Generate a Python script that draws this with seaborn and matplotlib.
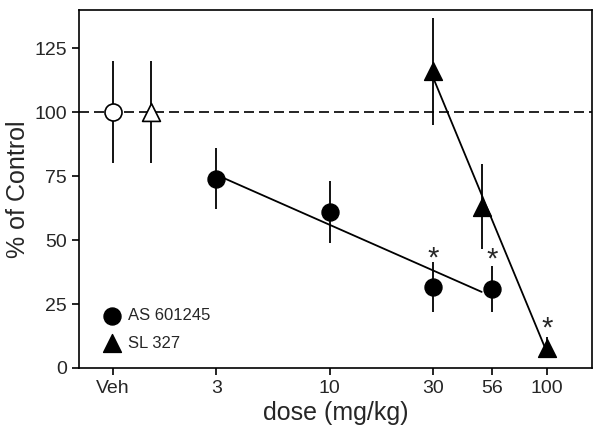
"""Dose-response of AS 601245 and SL 327 as percent of control."""
import matplotlib.pyplot as plt
import numpy as np
import pandas as pd
import seaborn as sns

# vehicle points (drawn at x=1 and x=1.5 on the log axis)
veh_x = [1.0, 1.5]
veh_mean = [100, 100]
veh_sem = [20, 20]

as_dose = [3, 10, 30, 56]
as_mean = [74, 61, 31.5, 31]
as_sem = [12, 12, 9.8, 9]

sl_dose = [30, 50, 100]
sl_mean = [116, 63, 8]
sl_sem = [21, 16.6, 4]

star_x = [30, 56, 100]
star_y = [45.7, 45, 18]

tick_pos = [1, 3, 10, 30, 56, 100]
tick_lab = ["Veh", "3", "10", "30", "56", "100"]


def main() -> None:
    sns.set_theme(style="ticks")
    plt.rcParams["font.family"] = ["Liberation Sans", "DejaVu Sans"]
    fig = plt.figure(figsize=(6.01, 4.37), dpi=100)
    ax = fig.add_axes([0.1314, 0.158, 0.8536, 0.819])
    ax.set_xscale("log")

    ax.axhline(100, color="black", linestyle=(0, (6, 3)), linewidth=1.2, zorder=1)

    # regression lines through log dose
    for dose, mean, x_end in [(as_dose, as_mean, 50), (sl_dose, sl_mean, 100)]:
        k, b = np.polyfit(np.log10(dose), mean, 1)
        xs = np.array([dose[0], x_end])
        ax.plot(xs, k * np.log10(xs) + b, color="black", linewidth=1.3, zorder=2)

    ax.errorbar(veh_x, veh_mean, yerr=veh_sem, fmt="none", ecolor="black", elinewidth=1.3, zorder=3)
    ax.errorbar(as_dose, as_mean, yerr=as_sem, fmt="none", ecolor="black", elinewidth=1.3, zorder=3)
    ax.errorbar(sl_dose, sl_mean, yerr=sl_sem, fmt="none", ecolor="black", elinewidth=1.3, zorder=3)

    df_as = pd.DataFrame({"dose": as_dose, "pct": as_mean})
    df_sl = pd.DataFrame({"dose": sl_dose, "pct": sl_mean})
    sns.scatterplot(data=df_as, x="dose", y="pct", marker="o", s=150, color="black",
                    edgecolor="black", ax=ax, zorder=4, label="AS 601245")
    sns.scatterplot(data=df_sl, x="dose", y="pct", marker="^", s=165, color="black",
                    edgecolor="black", ax=ax, zorder=4, label="SL 327")
    ax.scatter([veh_x[0]], [veh_mean[0]], marker="o", s=150, facecolor="white",
               edgecolor="black", linewidth=1.2, zorder=4)
    ax.scatter([veh_x[1]], [veh_mean[1]], marker="^", s=165, facecolor="white",
               edgecolor="black", linewidth=1.2, zorder=4)

    for x, y in zip(star_x, star_y):
        ax.annotate("*", (x, y), xytext=(0, -5), textcoords="offset points",
                    ha="center", va="center", fontsize=21)

    ax.set_xlim(0.70, 161)
    ax.set_ylim(0, 140)
    ax.set_xticks(tick_pos)
    ax.set_xticklabels(tick_lab)
    ax.xaxis.set_minor_locator(plt.NullLocator())
    ax.set_yticks([0, 25, 50, 75, 100, 125])
    ax.tick_params(labelsize=14, length=5, width=1.2, color="black")
    for s in ax.spines.values():
        s.set_color("black")
        s.set_linewidth(1.2)

    ax.set_xlabel("dose (mg/kg)", fontsize=18, labelpad=3)
    ax.set_ylabel("% of Control", fontsize=18, labelpad=3)

    ax.legend(loc="lower left", frameon=False, fontsize=12, handletextpad=0.2,
              borderaxespad=0.0, labelspacing=0.75, handlelength=1.6,
              bbox_to_anchor=(0.025, 0.03))

    fig.savefig("out.png", dpi=100)
    plt.close(fig)


if __name__ == "__main__":
    main()
